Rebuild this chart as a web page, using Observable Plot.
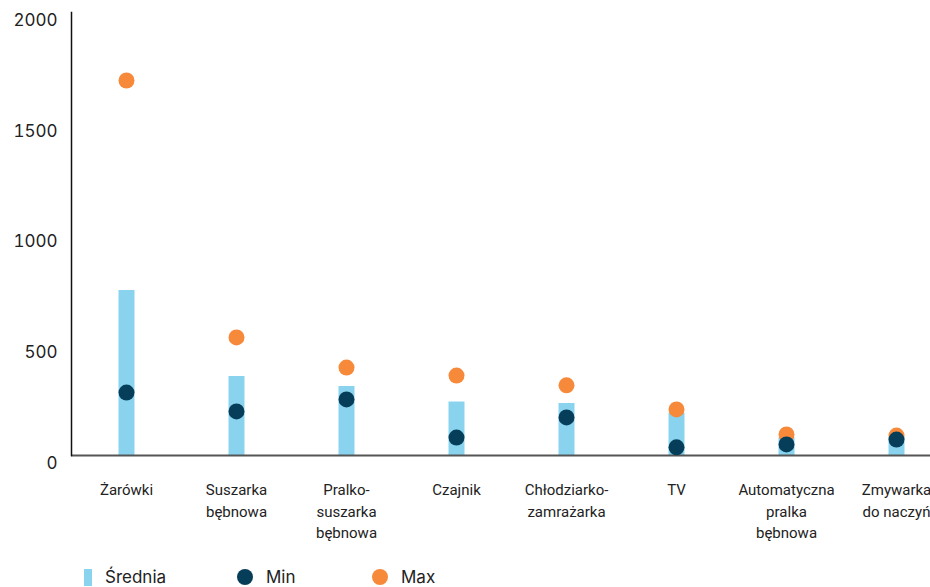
<!DOCTYPE html>
<html>
<head>
<meta charset="utf-8">
<script src="https://cdn.jsdelivr.net/npm/d3@7"></script>
<script src="https://cdn.jsdelivr.net/npm/@observablehq/plot@0.6"></script>
<style>
  body { margin: 0; background: #fff; font-family: Inter, "Noto Sans", sans-serif; }
  #wrap { position: relative; width: 930px; height: 587px; overflow: hidden; }
  #chart { width: 930px; height: 560px; overflow: hidden; }
  #chart svg { max-width: none !important; }
  #legend { position: absolute; left: 0; top: 560px; width: 930px; height: 27px; font-family: Inter, "Noto Sans", sans-serif; font-size: 17px; color: #222; }
  .item { position: absolute; top: 6px; display: flex; align-items: center; height: 22px; }
  .sw-bar { width: 8px; height: 17px; background: #89d3ef; margin-right: 13px; }
  .sw-dot { width: 16px; height: 16px; border-radius: 50%; margin-right: 13px; }
</style>
</head>
<body>
<div id="wrap">
  <div id="chart"></div>
  <div id="legend">
    <div class="item" style="left:84px"><div class="sw-bar"></div>Średnia</div>
    <div class="item" style="left:237px"><div class="sw-dot" style="background:#063e5a"></div>Min</div>
    <div class="item" style="left:372px"><div class="sw-dot" style="background:#f7893b"></div>Max</div>
  </div>
</div>
<script>
const categories = ["Żarówki", "Suszarka bębnowa", "Pralko-suszarka bębnowa", "Czajnik", "Chłodziarko-zamrażarka", "TV", "Automatyczna pralka bębnowa", "Zmywarka do naczyń"];
const categoryLabels = ["Żarówki", "Suszarka\nbębnowa", "Pralko-\nsuszarka\nbębnowa", "Czajnik", "Chłodziarko-\nzamrażarka", "TV", "Automatyczna\npralka\nbębnowa", "Zmywarka\ndo naczyń"];
const meanValues = [745, 357, 311, 241, 235, 190, 80, 80];
const minValues = [284, 199, 253, 81, 172, 37, 50, 72];
const maxValues = [1693, 533, 397, 361, 317, 208, 95, 90];
const yTicks = [0, 500, 1000, 1500, 2000];

const data = categories.map((c, i) => ({
  cat: c, label: categoryLabels[i], mean: meanValues[i], min: minValues[i], max: maxValues[i]
}));

const chart = Plot.plot({
  width: 951,
  height: 560,
  marginLeft: 71,
  marginRight: 0,
  marginTop: 12,
  marginBottom: 105,
  style: { background: "#fff", maxWidth: "none" },
  x: { type: "band", domain: categories, padding: 0, axis: null },
  y: { domain: [0, 2000], axis: null },
  marks: [
    Plot.ruleX(data, { x: "cat", y1: 0, y2: "mean", stroke: "#89d3ef", strokeWidth: 16 }),
    Plot.ruleY([0], { stroke: "#555", strokeWidth: 2 }),
    Plot.frame({ anchor: "left", stroke: "#111", strokeWidth: 1.5 }),
    Plot.dot(data, { x: "cat", y: "max", r: 8, fill: "#f7893b" }),
    Plot.dot(data, { x: "cat", y: "min", r: 8, fill: "#063e5a" }),
    Plot.axisY(yTicks, { tickSize: 0, tickPadding: 14, dy: 8, fontSize: 17, fill: "#222", tickFormat: d3.format("d"), fontFamily: "Inter, 'Noto Sans', sans-serif" }),
    Plot.text(data, { x: "cat", y: 0, text: "label", dy: 24, lineAnchor: "top", lineHeight: 1.45, fontSize: 15, fill: "#222", fontFamily: "Roboto, 'Noto Sans', sans-serif" })
  ]
});
document.getElementById("chart").appendChild(chart);
</script>
</body>
</html>
